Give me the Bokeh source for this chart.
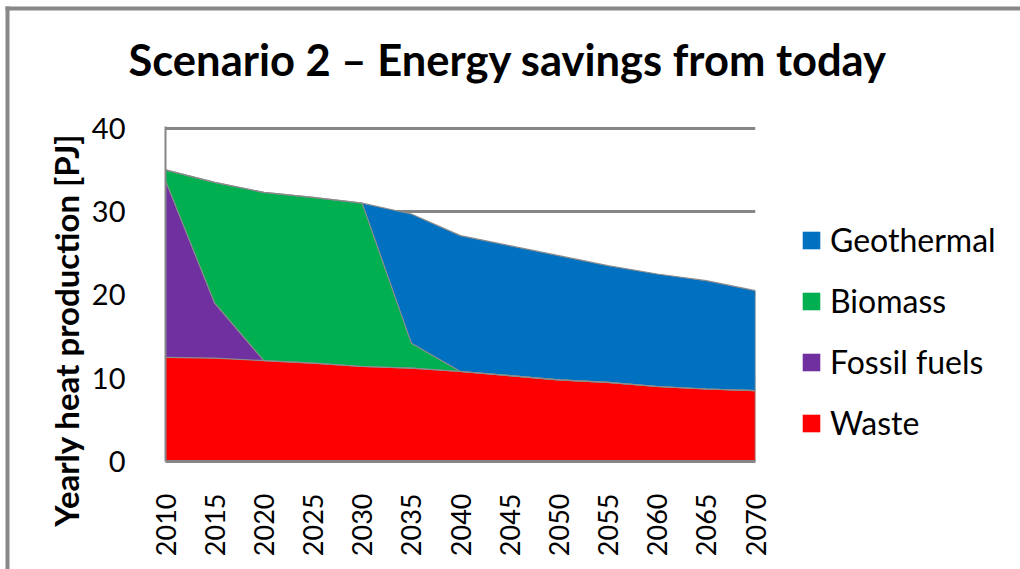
import math
from bokeh.plotting import figure
from bokeh.models import (ColumnDataSource, Range1d, FixedTicker, Legend, LegendItem,
                          Title, BoxAnnotation, Label)
from bokeh.embed import file_html
from bokeh.resources import INLINE

# Yearly heat production by source [PJ]
years = [2010, 2015, 2020, 2025, 2030, 2035, 2040, 2045, 2050, 2055, 2060, 2065, 2070]
waste = [12.5, 12.4, 12.1, 11.8, 11.4, 11.2, 10.8, 10.3, 9.8, 9.5, 9.0, 8.7, 8.5]
fossil_fuels = [21.2, 6.6, 0.0, 0.0, 0.0, 0.0, 0.0, 0.0, 0.0, 0.0, 0.0, 0.0, 0.0]
biomass = [1.3, 14.5, 20.2, 19.9, 19.6, 3.0, 0.0, 0.0, 0.0, 0.0, 0.0, 0.0, 0.0]
geothermal = [0.0, 0.0, 0.0, 0.0, 0.0, 15.5, 16.3, 15.6, 14.9, 14.0, 13.5, 13.0, 12.0]

series = ["waste", "fossil_fuels", "biomass", "geothermal"]
names = ["Waste", "Fossil fuels", "Biomass", "Geothermal"]
colors = ["#FF0000", "#7030A0", "#00B050", "#0070C0"]
y_ticks = [0, 10, 20, 30, 40]
title_text = "Scenario 2 \u2013 Energy savings from today"

source = ColumnDataSource(dict(years=years, waste=waste, fossil_fuels=fossil_fuels,
                               biomass=biomass, geothermal=geothermal))

FONT = "Lato"
GRAY = "#868686"
W, H = 1020, 569

p = figure(width=W, height=H, output_backend="svg", toolbar_location=None,
           x_range=Range1d(2010, 2070), y_range=Range1d(0, 40.2),
           min_border_left=165, min_border_right=265, min_border_top=126, min_border_bottom=108)
p.outline_line_color = None
p.background_fill_color = "white"
p.border_fill_color = "white"

# stacked areas with thin gray outlines
areas = p.varea_stack(series, x="years", color=colors, source=source)
p.vline_stack(series, x="years", color="#8c8c8c", line_width=1.2, source=source)
total_last = waste[-1] + fossil_fuels[-1] + biomass[-1] + geothermal[-1]
p.segment(x0=[years[-1]], y0=[0], x1=[years[-1]], y1=[total_last], color="#8c8c8c", line_width=1.5)

# y axis
p.yaxis.ticker = FixedTicker(ticks=y_ticks)
p.yaxis.major_label_text_font = FONT
p.yaxis.major_label_text_font_size = "29px"
p.yaxis.major_label_text_color = "black"
p.yaxis.major_tick_line_color = None
p.yaxis.minor_tick_line_color = None
p.yaxis.major_label_standoff = 34
p.yaxis.axis_line_color = GRAY
p.yaxis.axis_line_width = 2

ylab = Title(text="Yearly heat production [PJ]", text_font=FONT, text_font_size="33px",
             text_font_style="bold", text_color="black", align="right", offset=7, standoff=6)
p.add_layout(ylab, "left")

# x axis
p.xaxis.ticker = FixedTicker(ticks=years)
p.xaxis.major_label_orientation = math.pi / 2
p.xaxis.major_label_text_font = FONT
p.xaxis.major_label_text_font_size = "27px"
p.xaxis.major_label_text_color = "black"
p.xaxis.major_tick_line_color = None
p.xaxis.minor_tick_line_color = None
p.xaxis.major_label_standoff = 26
p.xaxis.axis_line_color = GRAY
p.xaxis.axis_line_width = 3

# grid
p.xgrid.grid_line_color = None
p.ygrid.ticker = FixedTicker(ticks=y_ticks)
p.ygrid.grid_line_color = GRAY
p.ygrid.grid_line_width = 3

# transparent overlay in pixel units: chart border, title and legend
ov = figure(width=W, height=H, output_backend="svg", toolbar_location=None,
            x_range=Range1d(0, W), y_range=Range1d(0, H),
            min_border_left=0, min_border_right=0, min_border_top=0, min_border_bottom=0)
ov.axis.visible = False
ov.grid.visible = False
ov.outline_line_color = None
ov.background_fill_alpha = 0
ov.border_fill_alpha = 0
ov.styles = {"position": "absolute", "left": "0px", "top": "0px"}

ov.add_layout(BoxAnnotation(left=5, right=9, bottom=0, top=H - 6,
                            fill_color="#888888", fill_alpha=1, line_color=None))
ov.add_layout(BoxAnnotation(left=5, right=W, bottom=H - 10, top=H - 6,
                            fill_color="#888888", fill_alpha=1, line_color=None))

ov.add_layout(Label(x=128, y=H - 62, text=title_text, text_font=FONT, text_font_size="43.5px",
                    text_font_style="bold", text_color="black",
                    text_align="left", text_baseline="middle", y_offset=4))

# legend swatches take their colours from the same stacked series (outside the visible range)
swatches = ov.varea_stack(series, x="years", color=colors, source=source)
items = [LegendItem(label=n, renderers=[r]) for n, r in zip(names, swatches)][::-1]
legend = Legend(items=items, location=(800, 127), margin=0, padding=0,
                border_line_color=None, background_fill_alpha=0,
                glyph_width=22, glyph_height=22, label_height=38, spacing=22,
                label_standoff=8, label_text_font=FONT, label_text_font_size="32px",
                label_text_color="black")
ov.add_layout(legend, "center")

open("out.html", "w").write(file_html([p, ov], INLINE))
